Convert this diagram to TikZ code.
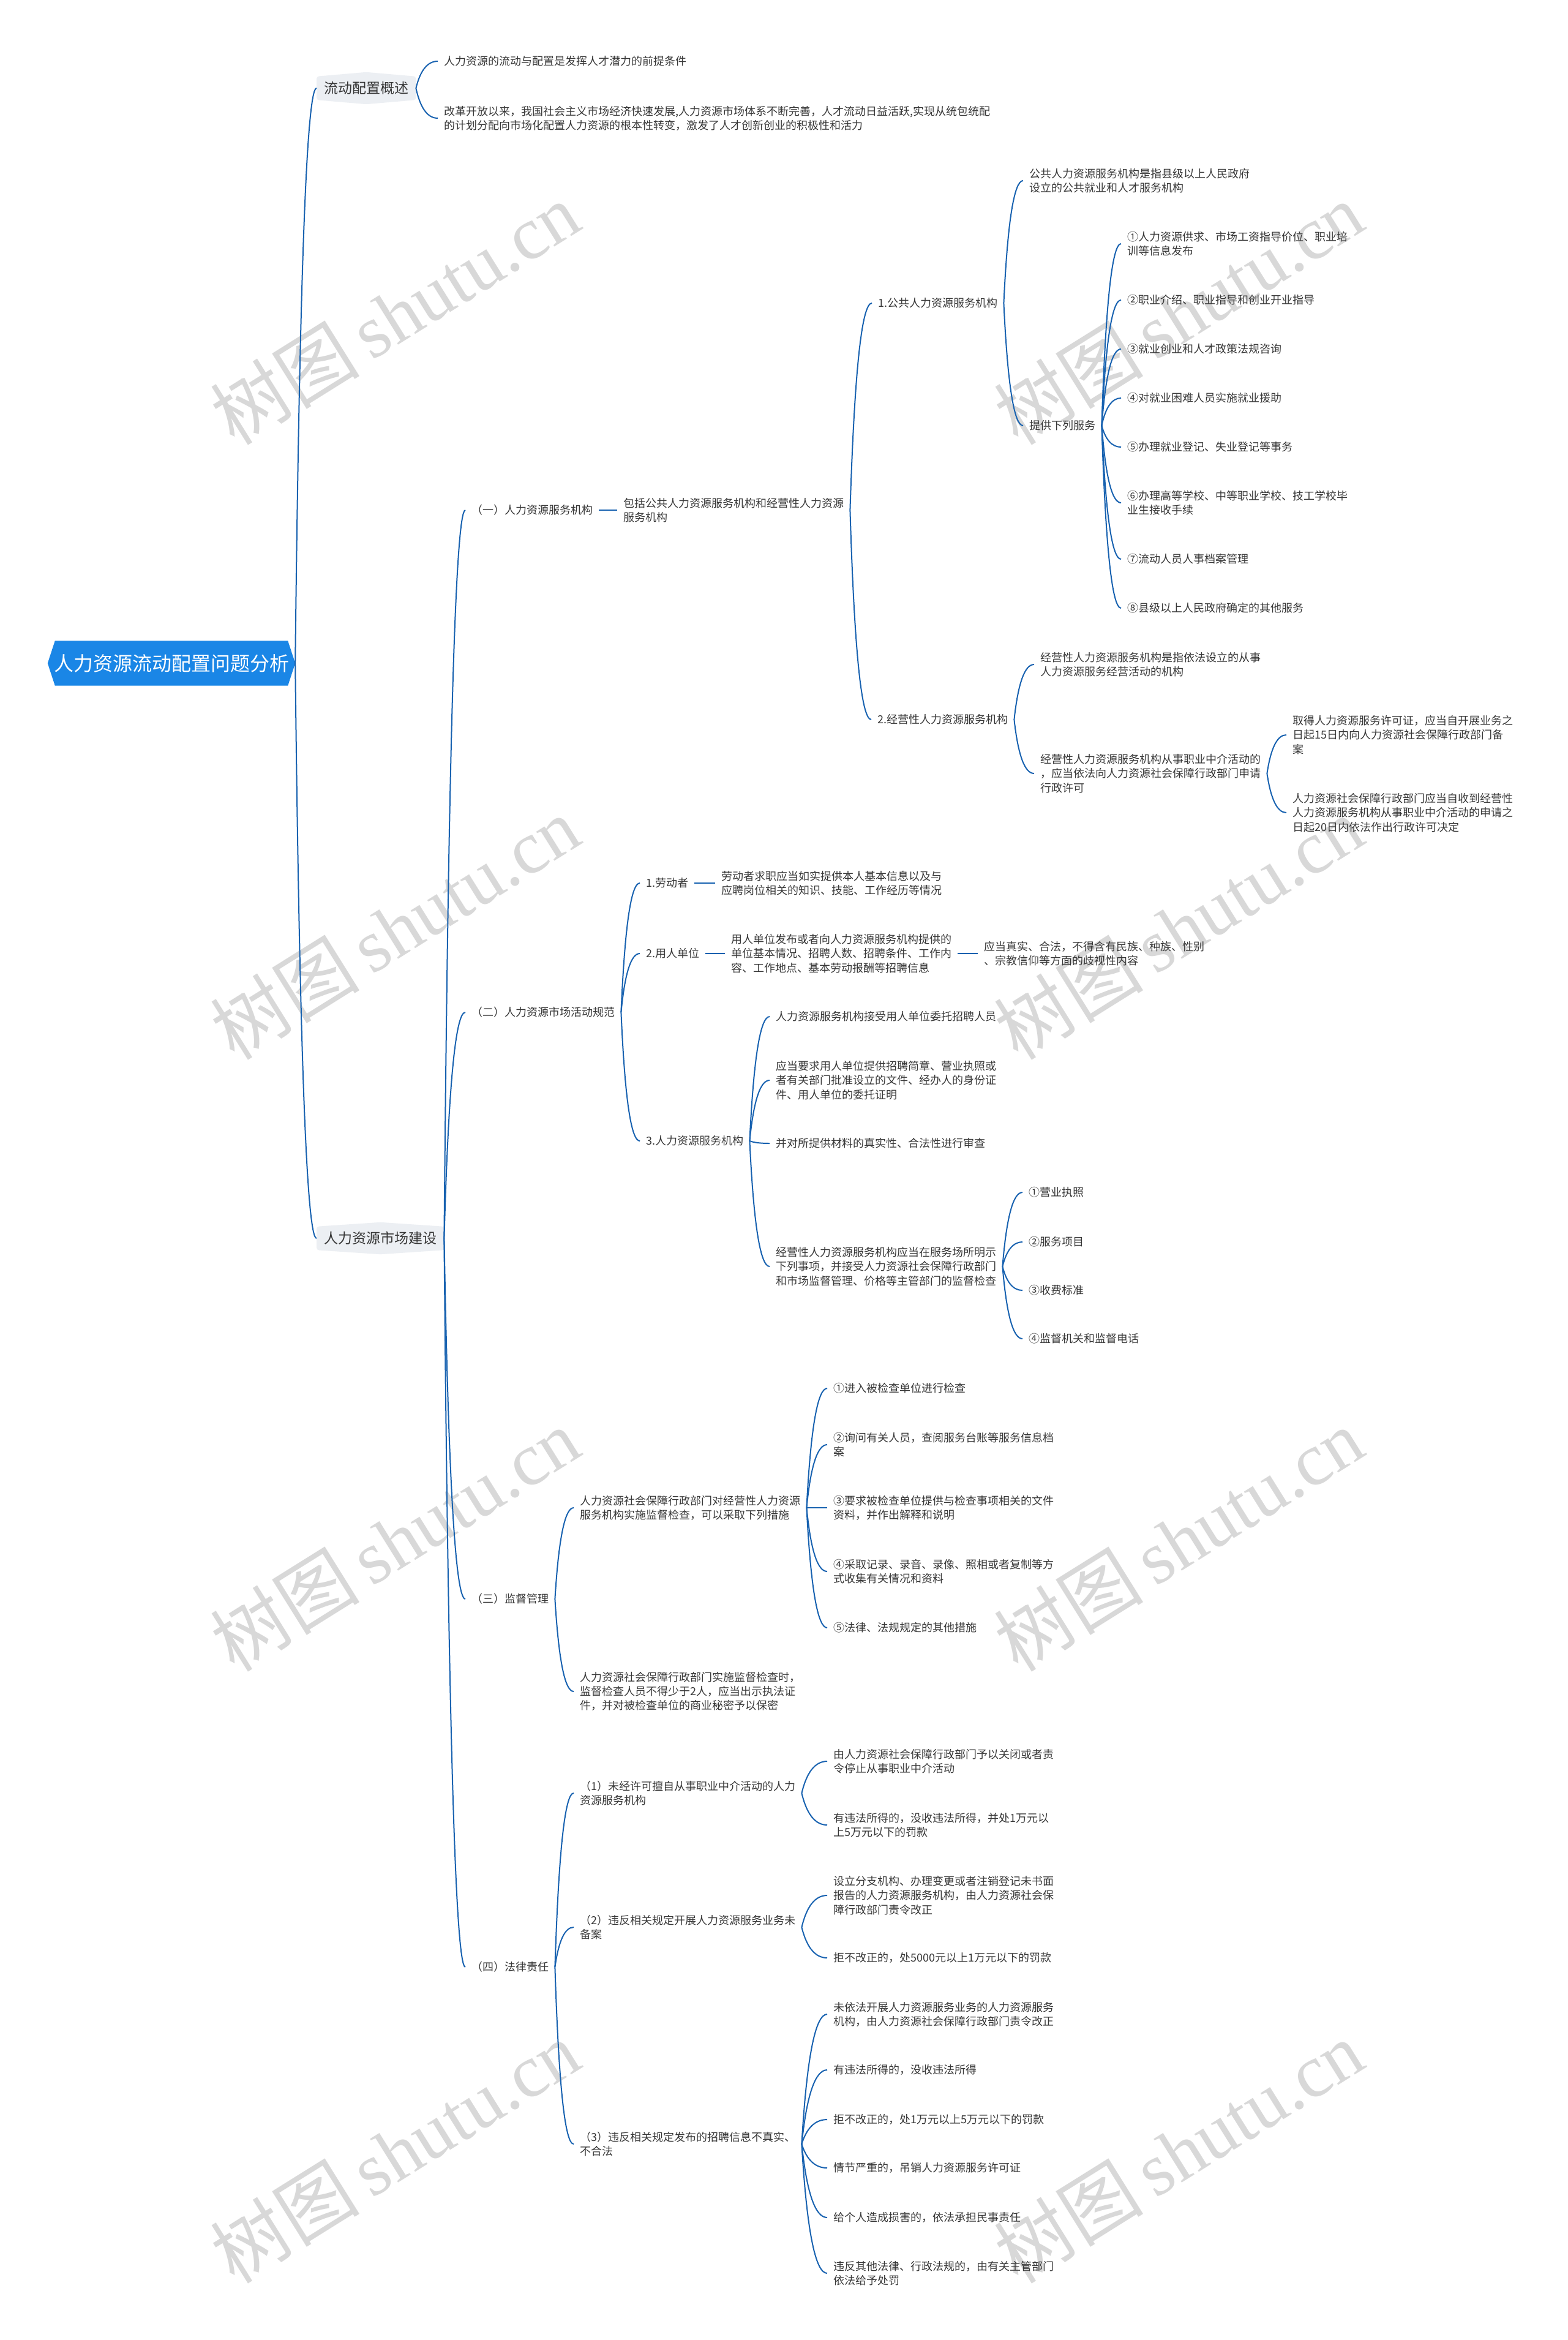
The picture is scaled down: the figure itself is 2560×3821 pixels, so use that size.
\documentclass[tikz,border=0pt]{standalone}
\usepackage{fontspec}
\setmainfont{Noto Sans CJK SC}
\newfontfamily\wmlat{Liberation Serif}
\usetikzlibrary{calc,backgrounds}
\definecolor{lk}{RGB}{24,98,176}
\definecolor{txt}{RGB}{55,55,55}
\definecolor{rootb}{RGB}{26,134,230}
\definecolor{lonef}{RGB}{236,239,243}
\definecolor{wmc}{RGB}{216,216,216}
\tikzset{
 link/.style={draw=lk, line width=2pt},
 leaf/.style={anchor=west, inner xsep=10pt, inner ysep=2pt, align=left, text=txt, font=\fontsize{18}{23.3}\selectfont},
 lone/.style={anchor=west, inner xsep=12pt, inner ysep=0pt, minimum height=52pt, text=txt, font=\fontsize{23}{28}\selectfont},
 rootn/.style={minimum width=404pt, minimum height=73pt, inner sep=0pt, text=white, font=\fontsize{32}{36}\selectfont},
 wmark/.style={rotate=32, text=wmc, font=\fontsize{122}{130}\selectfont},
}
\newcommand\lnk[2]{\draw[link] let \p1=(#1.east), \p2=(#2.west) in (\p1) .. controls ({\x1+0.2*(\x2-\x1)},{\y1+0.667*(\y2-\y1)}) and ({\x2-0.467*(\x2-\x1)},{\y2}) .. (\p2);}
\newcommand\lonebg[1]{\fill[lonef, rounded corners=4pt] ([yshift=-7pt]#1.north west) -- (#1.north) -- ([yshift=-7pt]#1.north east) -- ([yshift=7pt]#1.south east) -- (#1.south) -- ([yshift=7pt]#1.south west) -- cycle;}
\begin{document}
\begin{tikzpicture}[x=1pt,y=-1pt]
\useasboundingbox (0,0) rectangle (2560,3821);
\begin{scope}[on background layer]
\fill[white] (0,0) rectangle (2560,3821);
\foreach \wx in {645,1925} {
  \foreach \wy in {512,1515,2514,3513} {
    \node[wmark] at (\wx,\wy) {树图\,{\wmlat shutu.cn}};
  }
}
\end{scope}

% root
\node[rootn] (r) at (280,1083) {人力资源流动配置问题分析};
\begin{scope}[on background layer]
\fill[rootb] (r.west) -- ([xshift=12pt]r.north west) -- ([xshift=-12pt]r.north east) -- (r.east) -- ([xshift=-12pt]r.south east) -- ([xshift=12pt]r.south west) -- cycle;
\end{scope}

% level 1
\node[lone] (a) at (517,144) {流动配置概述};
\node[lone] (b) at (517,2022) {人力资源市场建设};
\begin{scope}[on background layer]
\lonebg{a}
\lonebg{b}
\end{scope}
\lnk{r}{a}
\lnk{r}{b}

% overview
\node[leaf] (a1) at (715,100) {人力资源的流动与配置是发挥人才潜力的前提条件};
\node[leaf] (a2) at (715,193) {改革开放以来，我国社会主义市场经济快速发展,人力资源市场体系不断完善，人才流动日益活跃,实现从统包统配\\的计划分配向市场化配置人力资源的根本性转变，激发了人才创新创业的积极性和活力};
\lnk{a}{a1}
\lnk{a}{a2}

% (一)
\node[leaf] (c1) at (760,833) {（一）人力资源服务机构};
\node[leaf] (c1a) at (1008,833) {包括公共人力资源服务机构和经营性人力资源\\服务机构};
\node[leaf] (p1) at (1424,495) {1.公共人力资源服务机构};
\node[leaf] (p1a) at (1671,295) {公共人力资源服务机构是指县级以上人民政府\\设立的公共就业和人才服务机构};
\node[leaf] (p1b) at (1671,695) {提供下列服务};
\node[leaf] (s1) at (1831,398) {①人力资源供求、市场工资指导价位、职业培\\训等信息发布};
\node[leaf] (s2) at (1831,490) {②职业介绍、职业指导和创业开业指导};
\node[leaf] (s3) at (1831,570) {③就业创业和人才政策法规咨询};
\node[leaf] (s4) at (1831,650) {④对就业困难人员实施就业援助};
\node[leaf] (s5) at (1831,730) {⑤办理就业登记、失业登记等事务};
\node[leaf] (s6) at (1831,821) {⑥办理高等学校、中等职业学校、技工学校毕\\业生接收手续};
\node[leaf] (s7) at (1831,913) {⑦流动人员人事档案管理};
\node[leaf] (s8) at (1831,993) {⑧县级以上人民政府确定的其他服务};
\node[leaf] (p2) at (1423,1175) {2.经营性人力资源服务机构};
\node[leaf] (p2a) at (1689,1085) {经营性人力资源服务机构是指依法设立的从事\\人力资源服务经营活动的机构};
\node[leaf] (p2b) at (1689,1263) {经营性人力资源服务机构从事职业中介活动的\\，应当依法向人力资源社会保障行政部门申请\\行政许可};
\node[leaf] (p2b1) at (2101,1200) {取得人力资源服务许可证，应当自开展业务之\\日起15日内向人力资源社会保障行政部门备\\案};
\node[leaf] (p2b2) at (2101,1327) {人力资源社会保障行政部门应当自收到经营性\\人力资源服务机构从事职业中介活动的申请之\\日起20日内依法作出行政许可决定};
\lnk{b}{c1}
\lnk{c1}{c1a}
\lnk{c1a}{p1}
\lnk{c1a}{p2}
\lnk{p1}{p1a}
\lnk{p1}{p1b}
\foreach \k in {s1,s2,s3,s4,s5,s6,s7,s8} {\lnk{p1b}{\k}}
\lnk{p2}{p2a}
\lnk{p2}{p2b}
\lnk{p2b}{p2b1}
\lnk{p2b}{p2b2}

% (二)
\node[leaf] (c2) at (760,1653) {（二）人力资源市场活动规范};
\node[leaf] (q1) at (1045,1442) {1.劳动者};
\node[leaf] (q1a) at (1168,1442) {劳动者求职应当如实提供本人基本信息以及与\\应聘岗位相关的知识、技能、工作经历等情况};
\node[leaf] (q2) at (1045,1557) {2.用人单位};
\node[leaf] (q2a) at (1184,1557) {用人单位发布或者向人力资源服务机构提供的\\单位基本情况、招聘人数、招聘条件、工作内\\容、工作地点、基本劳动报酬等招聘信息};
\node[leaf] (q2b) at (1597,1557) {应当真实、合法，不得含有民族、种族、性别\\、宗教信仰等方面的歧视性内容};
\node[leaf] (q3) at (1045,1863) {3.人力资源服务机构};
\node[leaf] (q3a) at (1257,1660) {人力资源服务机构接受用人单位委托招聘人员};
\node[leaf] (q3b) at (1257,1764) {应当要求用人单位提供招聘简章、营业执照或\\者有关部门批准设立的文件、经办人的身份证\\件、用人单位的委托证明};
\node[leaf] (q3c) at (1257,1867) {并对所提供材料的真实性、合法性进行审查};
\node[leaf] (q3d) at (1257,2068) {经营性人力资源服务机构应当在服务场所明示\\下列事项，并接受人力资源社会保障行政部门\\和市场监督管理、价格等主管部门的监督检查};
\node[leaf] (u1) at (1670,1947) {①营业执照};
\node[leaf] (u2) at (1670,2028) {②服务项目};
\node[leaf] (u3) at (1670,2107) {③收费标准};
\node[leaf] (u4) at (1670,2186) {④监督机关和监督电话};
\lnk{b}{c2}
\lnk{c2}{q1}
\lnk{c2}{q2}
\lnk{c2}{q3}
\lnk{q1}{q1a}
\lnk{q2}{q2a}
\lnk{q2a}{q2b}
\foreach \k in {q3a,q3b,q3c,q3d} {\lnk{q3}{\k}}
\foreach \k in {u1,u2,u3,u4} {\lnk{q3d}{\k}}

% (三)
\node[leaf] (c3) at (760,2611) {（三）监督管理};
\node[leaf] (v1) at (937,2462) {人力资源社会保障行政部门对经营性人力资源\\服务机构实施监督检查，可以采取下列措施};
\node[leaf] (v2) at (937,2762) {人力资源社会保障行政部门实施监督检查时，\\监督检查人员不得少于2人，应当出示执法证\\件，并对被检查单位的商业秘密予以保密};
\node[leaf] (w1) at (1351,2267) {①进入被检查单位进行检查};
\node[leaf] (w2) at (1351,2359) {②询问有关人员，查阅服务台账等服务信息档\\案};
\node[leaf] (w3) at (1351,2462) {③要求被检查单位提供与检查事项相关的文件\\资料，并作出解释和说明};
\node[leaf] (w4) at (1351,2566) {④采取记录、录音、录像、照相或者复制等方\\式收集有关情况和资料};
\node[leaf] (w5) at (1351,2658) {⑤法律、法规规定的其他措施};
\lnk{b}{c3}
\lnk{c3}{v1}
\lnk{c3}{v2}
\foreach \k in {w1,w2,w3,w4,w5} {\lnk{v1}{\k}}

% (四)
\node[leaf] (c4) at (760,3212) {（四）法律责任};
\node[leaf] (t1) at (937,2928) {（1）未经许可擅自从事职业中介活动的人力\\资源服务机构};
\node[leaf] (t2) at (937,3147) {（2）违反相关规定开展人力资源服务业务未\\备案};
\node[leaf] (t3) at (937,3501) {（3）违反相关规定发布的招聘信息不真实、\\不合法};
\node[leaf] (x1) at (1351,2876) {由人力资源社会保障行政部门予以关闭或者责\\令停止从事职业中介活动};
\node[leaf] (x2) at (1351,2980) {有违法所得的，没收违法所得，并处1万元以\\上5万元以下的罚款};
\node[leaf] (y1) at (1351,3095) {设立分支机构、办理变更或者注销登记未书面\\报告的人力资源服务机构，由人力资源社会保\\障行政部门责令改正};
\node[leaf] (y2) at (1351,3197) {拒不改正的，处5000元以上1万元以下的罚款};
\node[leaf] (z1) at (1351,3289) {未依法开展人力资源服务业务的人力资源服务\\机构，由人力资源社会保障行政部门责令改正};
\node[leaf] (z2) at (1351,3380) {有违法所得的，没收违法所得};
\node[leaf] (z3) at (1351,3461) {拒不改正的，处1万元以上5万元以下的罚款};
\node[leaf] (z4) at (1351,3540) {情节严重的，吊销人力资源服务许可证};
\node[leaf] (z5) at (1351,3621) {给个人造成损害的，依法承担民事责任};
\node[leaf] (z6) at (1351,3712) {违反其他法律、行政法规的，由有关主管部门\\依法给予处罚};
\lnk{b}{c4}
\foreach \k in {t1,t2,t3} {\lnk{c4}{\k}}
\lnk{t1}{x1}
\lnk{t1}{x2}
\lnk{t2}{y1}
\lnk{t2}{y2}
\foreach \k in {z1,z2,z3,z4,z5,z6} {\lnk{t3}{\k}}
\end{tikzpicture}
\end{document}
